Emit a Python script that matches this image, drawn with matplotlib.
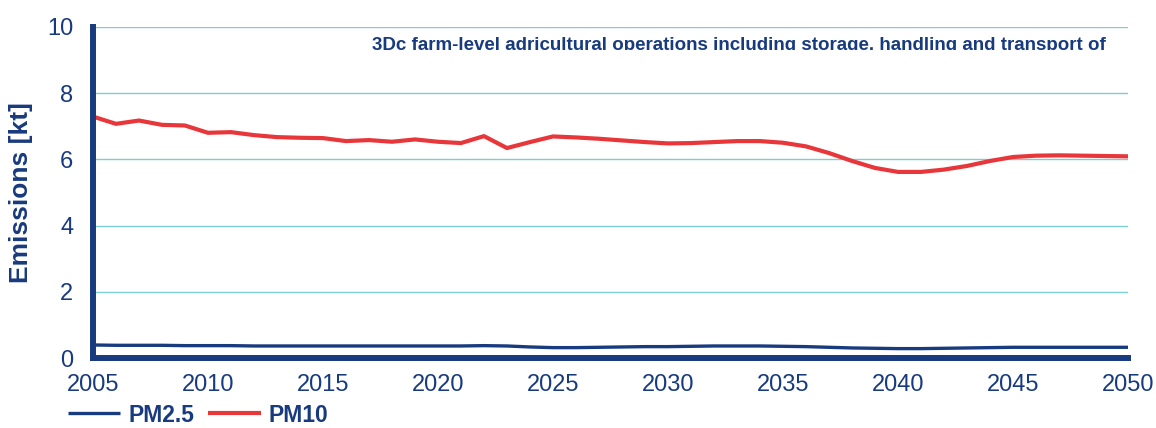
import matplotlib
matplotlib.use("Agg")
import matplotlib.pyplot as plt
from matplotlib.transforms import Bbox

# years 2005..2050
years = list(range(2005, 2051))

# PM10 emissions [kt]
pm10 = [7.29, 7.07, 7.17, 7.04, 7.02, 6.80, 6.82, 6.73, 6.67, 6.65,
        6.64, 6.55, 6.58, 6.53, 6.60, 6.53, 6.49, 6.70, 6.34, 6.52,
        6.69, 6.66, 6.62, 6.57, 6.52, 6.48, 6.49, 6.52, 6.55, 6.55,
        6.50, 6.39, 6.19, 5.95, 5.74, 5.62, 5.62, 5.69, 5.80, 5.95,
        6.07, 6.11, 6.12, 6.11, 6.10, 6.09]

# PM2.5 emissions [kt]
pm25 = [0.40, 0.39, 0.39, 0.39, 0.38, 0.38, 0.38, 0.37, 0.37, 0.37,
        0.37, 0.37, 0.37, 0.37, 0.37, 0.37, 0.37, 0.38, 0.37, 0.34,
        0.32, 0.32, 0.33, 0.34, 0.35, 0.35, 0.36, 0.37, 0.37, 0.37,
        0.36, 0.35, 0.33, 0.31, 0.30, 0.29, 0.29, 0.30, 0.31, 0.32,
        0.33, 0.33, 0.33, 0.33, 0.33, 0.33]

x_ticks = [2005, 2010, 2015, 2020, 2025, 2030, 2035, 2040, 2045, 2050]
y_ticks = [0, 2, 4, 6, 8, 10]

navy = "#183a7e"
red = "#e8373a"
grid_col = "#7ccdd6"

plt.rcParams["font.family"] = ["Liberation Sans", "DejaVu Sans"]

fig = plt.figure(figsize=(11.56, 4.28), dpi=100)
ax = fig.add_axes([0.0804, 0.163, 0.8954, 0.7746])

ax.plot(years, pm25, color=navy, lw=2.4, label="PM2.5", solid_capstyle="butt")
ax.plot(years, pm10, color=red, lw=3.0, label="PM10", solid_capstyle="butt")

ax.set_xlim(2005, 2050)
ax.set_ylim(0, 10)
ax.set_xticks(x_ticks)
ax.set_yticks(y_ticks)
ax.tick_params(length=0, labelsize=17, labelcolor=navy)
ax.tick_params(axis="x", pad=11)
ax.tick_params(axis="y", pad=14)

ax.grid(axis="y", color=grid_col, lw=1.0)
ax.set_axisbelow(True)
for s in ["top", "right"]:
    ax.spines[s].set_visible(False)
for s in ["left", "bottom"]:
    ax.spines[s].set_color(navy)
    ax.spines[s].set_linewidth(4.3)

ax.set_ylabel("Emissions [kt]", fontsize=19, fontweight="bold", color=navy, labelpad=10)

# title, cut off at the bottom like in the original
t = fig.text(372 / 1156, 1 - 50 / 428, "3Dc farm-level adricultural operations including storage, handling and transport of",
             fontsize=13.5, fontweight="bold", color=navy, ha="left", va="baseline")
t.set_clip_box(Bbox.from_extents(0, 428 - 50, 1156, 428))
t.set_clip_on(True)

fig.legend(loc="center left", bbox_to_anchor=(47 / 1156, 1 - 415 / 428), ncol=2, frameon=False,
           prop={"size": 16.5, "weight": "bold"}, labelcolor=navy,
           handlelength=2.3, handletextpad=0.35, columnspacing=0.6)

fig.savefig("out.png", dpi=100)
